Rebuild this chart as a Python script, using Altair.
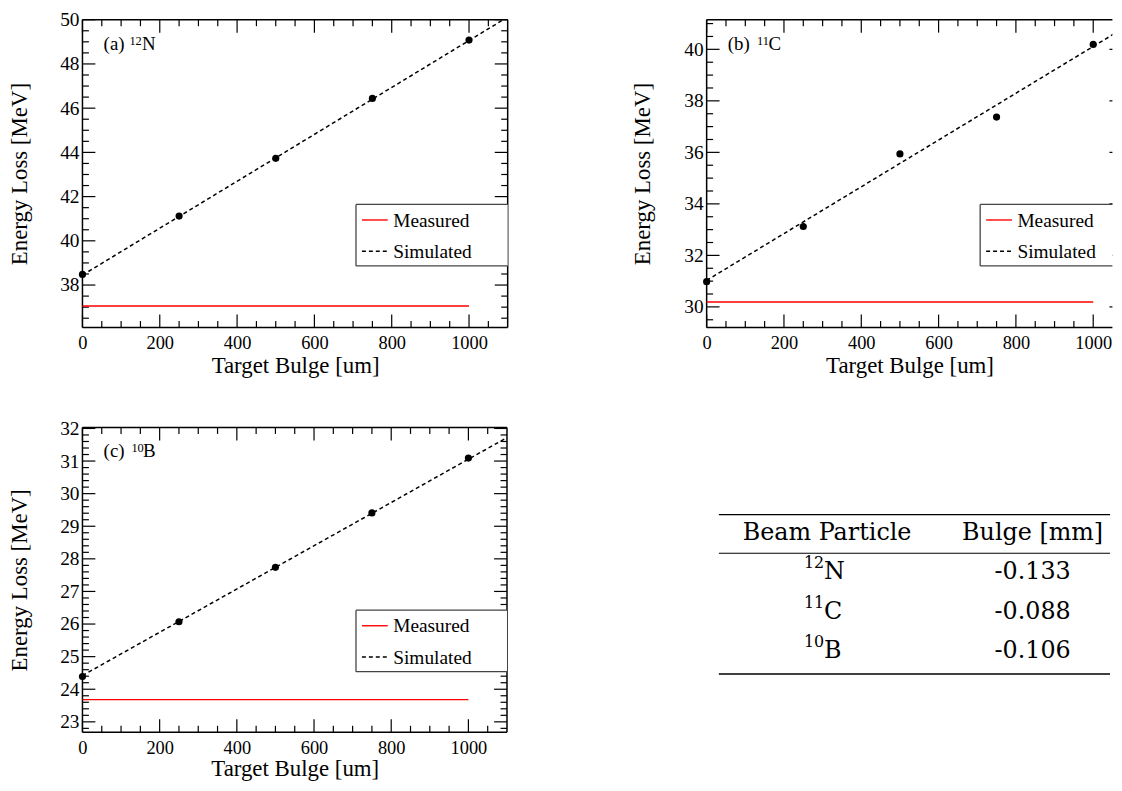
import altair as alt
import pandas as pd

FONT = "Liberation Serif"
TFONT = "DejaVu Serif"

# ---------------- data ----------------
bulge_um = [0, 250, 500, 750, 1000]
eloss_12N = [38.48, 41.12, 43.73, 46.44, 49.08]
eloss_11C = [30.98, 33.12, 35.94, 37.37, 40.19]
eloss_10B = [24.39, 26.07, 27.74, 29.41, 31.09]

measured_range_um = [0, 1000]
measured_12N = 37.05
measured_11C = 30.19
measured_10B = 23.68

fit_range_um = [0, 1100]
fit_12N = [38.45, 50.12]
fit_11C = [31.03, 41.02]
fit_10B = [24.42, 31.72]

x_major = [0, 200, 400, 600, 800, 1000]
y_major_12N = [38, 40, 42, 44, 46, 48, 50]
y_major_11C = [30, 32, 34, 36, 38, 40]
y_major_10B = [23, 24, 25, 26, 27, 28, 29, 30, 31, 32]

table_header = ["Beam Particle", "Bulge [mm]"]
beam_mass = ["12", "11", "10"]
beam_symbol = ["N", "C", "B"]
bulge_mm = ["-0.133", "-0.088", "-0.106"]

legend_labels = ["Measured", "Simulated"]

# ---------------- helpers ----------------
ONE = pd.DataFrame({"k": [0]})


def minor_ticks(lo, hi, step, majors):
    out = []
    n = int(round((hi - lo) / step)) + 2
    start = step * int(lo / step)
    for i in range(n + 2):
        v = round(start + i * step, 4)
        if lo <= v <= hi and all(abs(v - m) > 1e-6 for m in majors):
            out.append(v)
    return out


def vrule(x1, x2, y1, y2=None, color="black", width=1.5, dash=None):
    kw = dict(color=color, strokeWidth=width)
    if dash:
        kw["strokeDash"] = dash
    enc = dict(x=alt.value(x1), x2=alt.value(x2), y=alt.value(y1))
    if y2 is not None:
        enc["y2"] = alt.value(y2)
    return alt.Chart(ONE).mark_rule(**kw).encode(**enc)


def label(txt, x, y, size, font=FONT, align="left"):
    return alt.Chart(ONE).mark_text(
        align=align, baseline="alphabetic", font=font, fontSize=size, color="black"
    ).encode(x=alt.value(x), y=alt.value(y), text=alt.value(txt))


def panel(p):
    W, H = p["W"], p["H"]
    open_right = p["open_right"]
    xs = alt.Scale(domain=[0, p["xmax"]], nice=False, zero=False)
    ys = alt.Scale(domain=p["ydom"], nice=False, zero=False)
    xax = alt.Axis(values=x_major, title="Target Bulge [um]", ticks=False, tickSize=0,
                   domain=False, grid=False, labelFlush=False, labelPadding=6,
                   titlePadding=p["tpx"], labelFont=FONT, labelFontSize=18.5,
                   titleFont=FONT, titleFontSize=23, titleFontWeight="normal",
                   labelColor="black", titleColor="black", format="d", labelOverlap=False)
    yax = alt.Axis(values=p["ymaj"], title="Energy Loss [MeV]", ticks=False, tickSize=0,
                   domain=False, grid=False, labelPadding=3.5, titlePadding=p["tpy"],
                   labelFont=FONT, labelFontSize=19.5, titleFont=FONT, titleFontSize=23,
                   titleFontWeight="normal", labelColor="black", titleColor="black",
                   format="d", labelOverlap=False, labelFlush=False)
    X = alt.X("x:Q", scale=xs, axis=xax)
    Y = alt.Y("y:Q", scale=ys, axis=yax)

    xmin_t = minor_ticks(0, p["xmax"] - 1, 50, x_major)
    ymin_t = minor_ticks(p["ydom"][0], p["ydom"][1], p["ystep"], p["ymaj"])
    dxM = pd.DataFrame({"x": x_major})
    dxm = pd.DataFrame({"x": xmin_t})
    dyM = pd.DataFrame({"y": p["ymaj"]})
    dym = pd.DataFrame({"y": ymin_t})

    layers = []
    LM, Lm = 13, 6.5
    for d, L in ((dxM, LM), (dxm, Lm)):
        layers.append(alt.Chart(d).mark_rule(color="black", strokeWidth=1.2).encode(
            x=X, y=alt.value(H), y2=alt.value(H - L)))
        layers.append(alt.Chart(d).mark_rule(color="black", strokeWidth=1.2).encode(
            x=X, y=alt.value(0), y2=alt.value(L)))
    for d, L in ((dyM, LM), (dym, Lm)):
        layers.append(alt.Chart(d).mark_rule(color="black", strokeWidth=1.2).encode(
            y=Y, x=alt.value(0), x2=alt.value(L)))
    if open_right:
        # frame lies just beyond the visible edge: only the tips of major ticks show
        layers.append(alt.Chart(dyM).mark_rule(color="black", strokeWidth=1.2).encode(
            y=Y, x=alt.value(W - 3), x2=alt.value(W)))
    else:
        for d, L in ((dyM, LM), (dym, Lm)):
            layers.append(alt.Chart(d).mark_rule(color="black", strokeWidth=1.2).encode(
                y=Y, x=alt.value(W - L), x2=alt.value(W)))

    # frame
    layers.append(vrule(0, W, 0))
    layers.append(vrule(0, W, H))
    layers.append(vrule(0, 0, 0, H))
    if not open_right:
        layers.append(vrule(W, W, 0, H))

    # measured
    dm = pd.DataFrame({"x": measured_range_um, "y": [p["meas"]] * 2})
    layers.append(alt.Chart(dm).mark_line(color="#ff0000", strokeWidth=1.4).encode(x=X, y=Y))
    # simulated fit
    dfit = pd.DataFrame({"x": fit_range_um, "y": p["fit"]})
    layers.append(alt.Chart(dfit).mark_line(color="black", strokeWidth=1.5,
                                            strokeDash=[4, 3], clip=True).encode(x=X, y=Y))
    # simulated points
    dp = pd.DataFrame({"x": bulge_um, "y": p["vals"]})
    layers.append(alt.Chart(dp).mark_circle(size=52, color="black", opacity=1).encode(x=X, y=Y))

    # legend box
    lx0, ly0, ly1 = 275.5, p["leg_y"], p["leg_y"] + 62
    layers.append(alt.Chart(ONE).mark_rect(fill="white", strokeWidth=0).encode(
        x=alt.value(lx0), x2=alt.value(W), y=alt.value(ly0), y2=alt.value(ly1)))
    layers.append(vrule(lx0, W, ly0, color="#444444", width=1.3))
    layers.append(vrule(lx0, W, ly1, color="#444444", width=1.3))
    layers.append(vrule(lx0, lx0, ly0, ly1, color="#444444", width=1.3))
    layers.append(vrule(lx0 + 6, lx0 + 32, ly0 + 15.7, color="#ff0000", width=1.4))
    layers.append(vrule(lx0 + 6, lx0 + 32, ly0 + 47.3, color="black", width=1.5, dash=[4, 3]))
    layers.append(label(legend_labels[0], lx0 + 37.5, ly0 + 22.3, 19.5))
    layers.append(label(legend_labels[1], lx0 + 37.5, ly0 + 54, 19.5))

    # annotation
    layers.append(label(p["tag"], 21.3, 30, 19))
    layers.append(label(p["mass"], p["sup_x"], 25, 12.5))
    layers.append(label(p["sym"], p["sym_x"], 30, 19))

    if p["spacer"]:
        layers.append(alt.Chart(ONE).mark_rule(strokeOpacity=0, opacity=0).encode(
            x=alt.value(-p["spacer"]), x2=alt.value(-p["spacer"]),
            y=alt.value(H / 2), y2=alt.value(H / 2 + 1)))

    return alt.layer(*layers).properties(width=W, height=H)


PX = 428.3 / 1100.0

pa = dict(W=428.3, H=310, xmax=1100, open_right=False, ydom=[36.08, 50.0], ymaj=y_major_12N,
          ystep=0.5, vals=eloss_12N, meas=measured_12N, fit=fit_12N, tpx=2.8, tpy=28.7,
          leg_y=186, tag="(a)", mass=beam_mass[0], sym=beam_symbol[0], sup_x=47.3,
          sym_x=60, spacer=74.7)
Wb = 408.7
pb = dict(W=Wb, H=310, xmax=Wb / PX, open_right=True, ydom=[29.2, 41.15], ymaj=y_major_11C,
          ystep=0.5, vals=eloss_11C, meas=measured_11C, fit=fit_11C, tpx=2.8, tpy=29.3,
          leg_y=186, tag="(b)", mass=beam_mass[1], sym=beam_symbol[1], sup_x=50.7,
          sym_x=62.4, spacer=0)
pc = dict(W=427.6, H=307, xmax=1100, open_right=False, ydom=[22.68, 32.03], ymaj=y_major_10B,
          ystep=0.2, vals=eloss_10B, meas=measured_10B, fit=fit_10B, tpx=1.5, tpy=28.0,
          leg_y=184, tag="(c)", mass=beam_mass[2], sym=beam_symbol[2], sup_x=49.3,
          sym_x=61, spacer=0)

# ---------------- table ----------------
TW, TH = 394, 255
rows = ["header"] + [m + s for m, s in zip(beam_mass, beam_symbol)]
cs = alt.Scale(type="point", domain=table_header, range=[109, 316], padding=0)
rs = alt.Scale(type="point", domain=rows, range=[106, 225.5], padding=0)
TX = alt.X("col:N", scale=cs, axis=None)
TY = alt.Y("row:N", scale=rs, axis=None)

hdr = pd.DataFrame({"col": table_header, "row": ["header"] * 2, "txt": table_header})
sym_df = pd.DataFrame({"col": [table_header[0]] * 3, "row": rows[1:],
                       "mass": beam_mass, "sym": beam_symbol})
val_df = pd.DataFrame({"col": [table_header[1]] * 3, "row": rows[1:], "val": bulge_mm})

t_layers = [
    vrule(0, TW, 87.7, width=1.3),
    vrule(0, TW, 126.7, width=1.1),
    vrule(0, TW, 248.3, width=1.3),
    alt.Chart(hdr).mark_text(font=TFONT, fontSize=24, baseline="middle", color="black").encode(
        x=TX, y=TY, text="txt:N"),
    alt.Chart(sym_df).mark_text(font=TFONT, fontSize=24, baseline="middle", align="left",
                                dx=-3, color="black").encode(x=TX, y=TY, text="sym:N"),
    alt.Chart(sym_df).mark_text(font=TFONT, fontSize=16, baseline="middle", align="right",
                                dx=-3, dy=-9, color="black").encode(x=TX, y=TY, text="mass:N"),
    alt.Chart(val_df).mark_text(font=TFONT, fontSize=24, baseline="middle", color="black").encode(
        x=TX, y=TY, text="val:N"),
]
table = alt.layer(*t_layers).properties(width=TW, height=TH)

row1 = alt.hconcat(panel(pa), panel(pb), spacing=122.7)
row2 = alt.hconcat(panel(pc), table, spacing=211)
chart = alt.concat(row1, row2, columns=1, spacing=39.7, align="none").properties(
    padding={"left": 0, "top": -1, "right": 0, "bottom": 0}
).configure(background="white").configure_view(stroke=None)

chart.save("out.html", embed_options={"renderer": "svg", "actions": False})
